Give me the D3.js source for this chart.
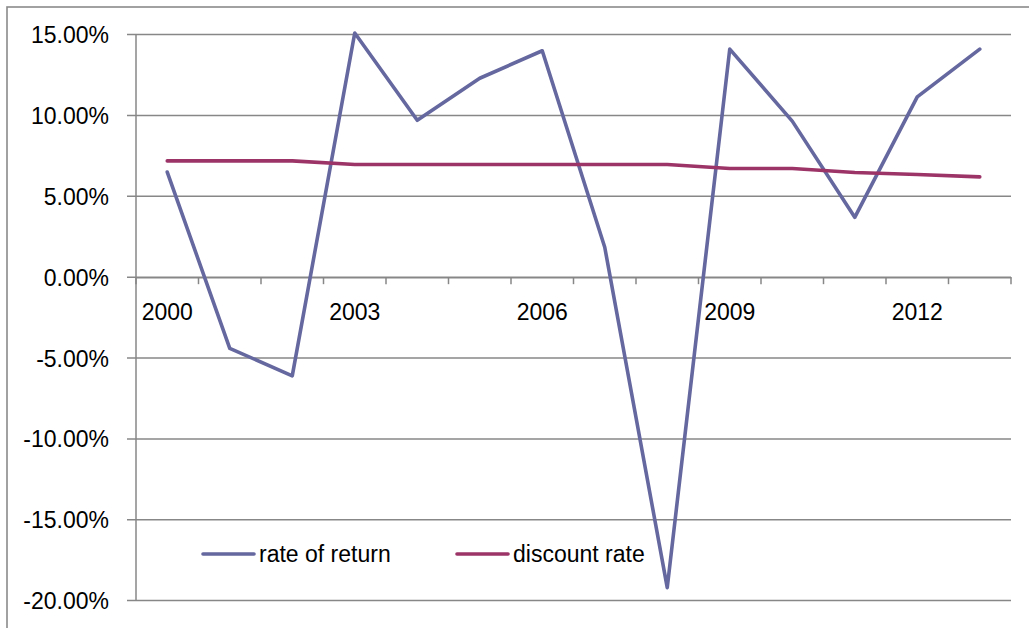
<!DOCTYPE html>
<html>
<head>
<meta charset="utf-8">
<script src="https://cdn.jsdelivr.net/npm/d3@7"></script>
<style>
  html, body { margin: 0; padding: 0; background: #fff; }
  svg { display: block; }
  text { font-family: "Liberation Sans", Arial, sans-serif; font-size: 23px; fill: #000; }
</style>
</head>
<body>
<svg id="chart" width="1029" height="628"></svg>
<script>
// Years on the category axis
const years = [2000, 2001, 2002, 2003, 2004, 2005, 2006, 2007, 2008, 2009, 2010, 2011, 2012, 2013];
// Annual rate of return, percent
const rateOfReturn = [6.5, -4.4, -6.1, 15.1, 9.7, 12.3, 14.0, 1.85, -19.2, 14.1, 9.65, 3.7, 11.15, 14.1];
// Discount rate, percent
const discountRate = [7.19, 7.19, 7.19, 6.97, 6.97, 6.97, 6.97, 6.97, 6.97, 6.72, 6.72, 6.47, 6.35, 6.2];
// Value-axis ticks, percent
const yTicks = [15, 10, 5, 0, -5, -10, -15, -20];
// Category labels shown on the axis
const shownYears = [2000, 2003, 2006, 2009, 2012];
const seriesNames = ["rate of return", "discount rate"];
const seriesColors = ["#65679f", "#9c3467"];

const svg = d3.select("#chart");

const plot = { left: 136, right: 1011, top: 34.6, bottom: 600.6 };

const x = d3.scaleBand().domain(years).range([plot.left, plot.right]);
const y = d3.scaleLinear().domain([-20, 15]).range([plot.bottom, plot.top]);

// Chart area frame
svg.append("rect")
  .attr("x", 7).attr("y", 7)
  .attr("width", 1060).attr("height", 660)
  .attr("fill", "none").attr("stroke", "#8a8a8a").attr("stroke-width", 1.6);

// Horizontal gridlines, extended left to form the value-axis ticks
svg.append("g").selectAll("line").data(yTicks).join("line")
  .attr("x1", plot.left - 9).attr("x2", plot.right)
  .attr("y1", d => y(d)).attr("y2", d => y(d))
  .attr("stroke", "#878787").attr("stroke-width", 1.5);

// Value axis line
svg.append("line")
  .attr("x1", plot.left).attr("x2", plot.left)
  .attr("y1", y(15)).attr("y2", y(-20))
  .attr("stroke", "#878787").attr("stroke-width", 1.5);

// Value-axis labels (plain hyphen for negatives)
svg.append("g").selectAll("text").data(yTicks).join("text")
  .attr("x", 109).attr("y", d => y(d))
  .attr("dy", "0.37em")
  .attr("text-anchor", "end")
  .text(d => d.toFixed(2) + "%");

// Category axis at zero, with ticks between categories
const xAxis = d3.axisBottom(x).tickValues([]).tickSize(0).tickSizeOuter(0);
const gx = svg.append("g").attr("transform", `translate(0,${y(0)})`).call(xAxis);
gx.select(".domain").attr("stroke", "#878787").attr("stroke-width", 1.5);

const boundaries = years.map(d => x(d)).concat([x(years[years.length - 1]) + x.bandwidth()]);
svg.append("g").selectAll("line").data(boundaries).join("line")
  .attr("x1", d => d).attr("x2", d => d)
  .attr("y1", y(0)).attr("y2", y(0) + 7)
  .attr("stroke", "#878787").attr("stroke-width", 1.5);

svg.append("g").selectAll("text").data(shownYears).join("text")
  .attr("x", d => x(d) + x.bandwidth() / 2)
  .attr("y", y(0) + 43)
  .attr("text-anchor", "middle")
  .text(d => d);

// Series lines
const line = d3.line()
  .x((d, i) => x(years[i]) + x.bandwidth() / 2)
  .y(d => y(d));

[rateOfReturn, discountRate].forEach((vals, i) => {
  svg.append("path")
    .datum(vals)
    .attr("fill", "none")
    .attr("stroke", seriesColors[i])
    .attr("stroke-width", 3.6)
    .attr("stroke-linejoin", "round")
    .attr("stroke-linecap", "round")
    .attr("d", line);
});

// Legend
const legendItems = [
  { x: 203, name: seriesNames[0], color: seriesColors[0] },
  { x: 457, name: seriesNames[1], color: seriesColors[1] }
];
const lg = svg.append("g").selectAll("g").data(legendItems).join("g")
  .attr("transform", d => `translate(${d.x},554)`);
lg.append("line")
  .attr("x1", 0).attr("x2", 51).attr("y1", 0).attr("y2", 0)
  .attr("stroke", d => d.color).attr("stroke-width", 3.6)
  .attr("stroke-linecap", "round");
lg.append("text")
  .attr("x", 56).attr("y", 0).attr("dy", "0.35em")
  .text(d => d.name);
</script>
</body>
</html>
